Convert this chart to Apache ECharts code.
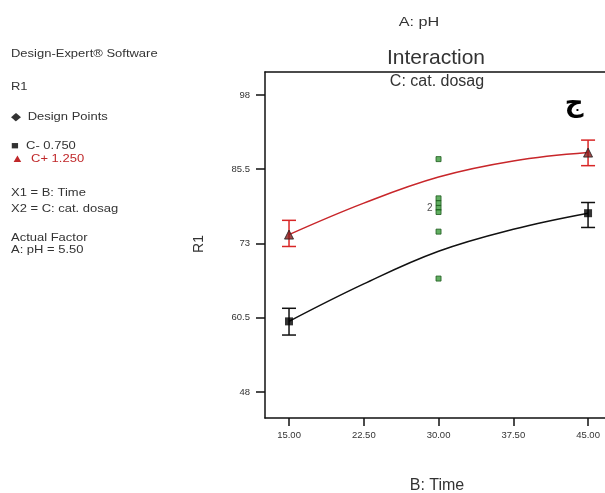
<!DOCTYPE html>
<html><head><meta charset="utf-8">
<script src="https://cdn.jsdelivr.net/npm/echarts@6/dist/echarts.min.js"></script>
<style>html,body{margin:0;padding:0;background:#fff}#c{width:605px;height:493px}</style>
</head><body><div id="c"></div>
<script>
// ---- data ----
const timeTicks = [15, 22.5, 30, 37.5, 45];
const r1Ticks = [48, 60.5, 73, 85.5, 98];
const curveX = [15, 22.5, 30, 37.5, 45];
const lowCurve = [59.9, 66.2, 71.7, 75.4, 78.1];   // C- 0.750
const highCurve = [74.5, 79.8, 84.2, 86.9, 88.3];  // C+ 1.250
const endX = [15, 45];
const lowMean = [59.9, 78.1];
const lowErrLo = [57.6, 75.7];
const lowErrHi = [62.1, 79.9];
const highMean = [74.5, 88.3];
const highErrLo = [72.5, 86.1];
const highErrHi = [76.9, 90.4];
const designX = [30, 30, 30, 30, 30, 30, 30];
const designY = [87.2, 80.6, 79.8, 79.0, 78.3, 75.0, 67.1];
const designLabels = ['', '', '', '2', '', '', ''];

const font = '"Liberation Sans", Arial, sans-serif';
const chart = echarts.init(document.getElementById('c'));

function errSeries(xs, lo, hi, color) {
  return {
    type: 'custom', z: 3, silent: true,
    data: xs.map((x, i) => [x, lo[i], hi[i]]),
    renderItem: function (params, api) {
      const a = api.coord([api.value(0), api.value(1)]);
      const b = api.coord([api.value(0), api.value(2)]);
      const w = 7;
      const st = { stroke: color, lineWidth: 1.5 };
      return { type: 'group', children: [
        { type: 'line', shape: { x1: a[0], y1: a[1], x2: b[0], y2: b[1] }, style: st },
        { type: 'line', shape: { x1: a[0] - w, y1: a[1], x2: a[0] + w, y2: a[1] }, style: st },
        { type: 'line', shape: { x1: b[0] - w, y1: b[1], x2: b[0] + w, y2: b[1] }, style: st }
      ]};
    }
  };
}

const leftText = (t, y, color) => ({ type: 'text', x: 11, y: y, scaleX: 1.18,
  style: { text: t, font: '11px ' + font, fill: color || '#333', align: 'left', verticalAlign: 'middle' } });
const cText = (t, x, y, size, sx) => ({ type: 'text', x: x, y: y, scaleX: sx || 1,
  style: { text: t, font: size + 'px ' + font, fill: '#333', align: 'center', verticalAlign: 'middle' } });

const lineStyle = { color: '#111', width: 1.5 };
chart.setOption({
  animation: false,
  backgroundColor: '#fff',
  grid: { left: 265, top: 72, right: 0, bottom: 75, show: false },
  xAxis: [{
    type: 'value', min: 12.59, max: 46.70,
    splitLine: { show: false },
    axisLine: { show: true, onZero: false, lineStyle: lineStyle },
    axisTick: { show: true, customValues: timeTicks, length: 8, lineStyle: lineStyle },
    axisLabel: { customValues: timeTicks, fontSize: 9.5, color: '#333', margin: 12, fontFamily: font,
      formatter: v => v.toFixed(2) }
  }, {
    type: 'value', position: 'top', min: 12.59, max: 46.70,
    splitLine: { show: false },
    axisLine: { show: true, onZero: false, lineStyle: lineStyle },
    axisTick: { show: false }, axisLabel: { show: false }
  }],
  yAxis: {
    type: 'value', min: 43.64, max: 101.86,
    splitLine: { show: false },
    axisLine: { show: true, onZero: false, lineStyle: lineStyle },
    axisTick: { show: true, customValues: r1Ticks, length: 9, lineStyle: lineStyle },
    axisLabel: { customValues: r1Ticks, fontSize: 9.5, color: '#333', margin: 15, fontFamily: font }
  },
  graphic: [
    leftText('Design-Expert® Software', 54),
    leftText('R1', 87),
    leftText('◆  Design Points', 117),
    leftText('■  C- 0.750', 146),
    leftText('▲  C+ 1.250', 159, '#c0282a'),
    leftText('X1 = B: Time', 193),
    leftText('X2 = C: cat. dosag', 209),
    leftText('Actual Factor', 238),
    leftText('A: pH = 5.50', 250),
    cText('A: pH', 419, 23, 12, 1.35),
    cText('Interaction', 436, 58, 21),
    cText('C: cat. dosag', 437, 82, 16),
    cText('B: Time', 437, 486, 16),
    { type: 'text', x: 199, y: 244, rotation: Math.PI / 2, style: { text: 'R1', font: '14px ' + font, fill: '#333', align: 'center', verticalAlign: 'middle' } },
    { type: 'text', x: 574, y: 104, style: { text: 'ج', font: 'bold 26px "DejaVu Sans", sans-serif', fill: '#000', align: 'center', verticalAlign: 'middle' } }
  ],
  series: [
    { type: 'line', data: curveX.map((x, i) => [x, lowCurve[i]]), smooth: 0.4, showSymbol: false, lineStyle: { color: '#111', width: 1.5 }, z: 2 },
    { type: 'line', data: curveX.map((x, i) => [x, highCurve[i]]), smooth: 0.4, showSymbol: false, lineStyle: { color: '#c8262a', width: 1.5 }, z: 2 },
    errSeries(endX, lowErrLo, lowErrHi, '#111'),
    errSeries(endX, highErrLo, highErrHi, '#d82626'),
    { type: 'scatter', data: endX.map((x, i) => [x, lowMean[i]]), symbol: 'rect', symbolSize: 8, itemStyle: { color: '#000' }, z: 4 },
    { type: 'scatter', data: endX.map((x, i) => [x, highMean[i]]), symbol: 'triangle', symbolSize: 9, itemStyle: { color: '#8a1a1a', borderColor: '#222', borderWidth: 1 }, z: 4 },
    { type: 'scatter', data: designX.map((x, i) => ({ value: [x, designY[i]], label: { show: designLabels[i] !== '', formatter: designLabels[i], position: 'left', distance: 3, fontSize: 10, color: '#222', fontFamily: font } })),
      symbol: 'rect', symbolSize: 5, itemStyle: { color: '#3a9a3a', borderColor: '#1d5a1d', borderWidth: 1 }, z: 5 }
  ]
});
</script></body></html>
